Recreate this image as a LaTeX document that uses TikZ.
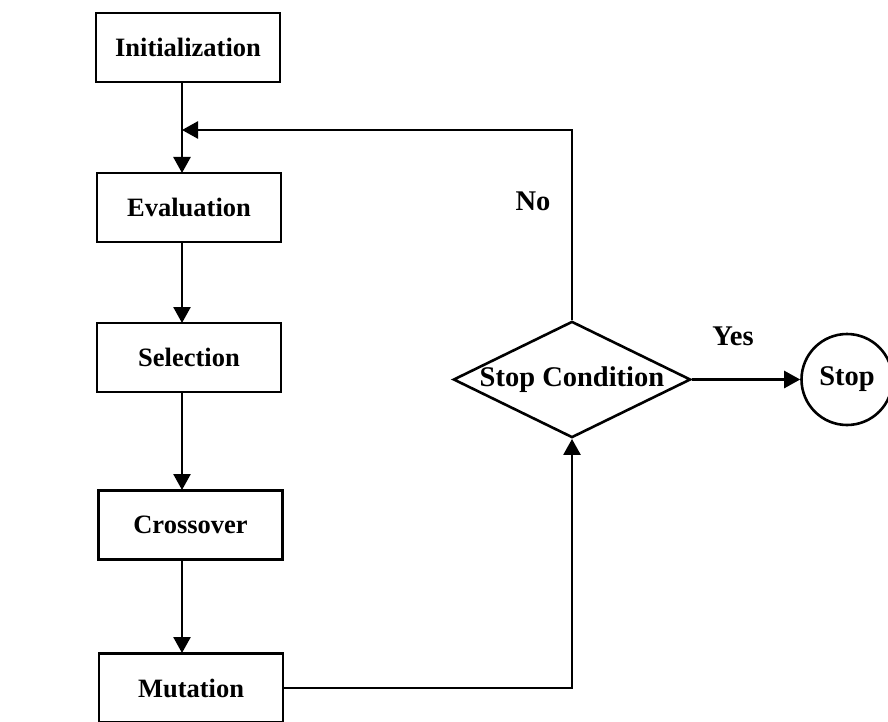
\documentclass[tikz,border=0pt]{standalone}
\usepackage{fontspec}
\setmainfont{Liberation Serif}
\usetikzlibrary{arrows.meta,shapes.geometric}
\begin{document}
\begin{tikzpicture}[x=1pt,y=-1pt,
  line width=2.6pt,
  arr/.style={-{Triangle[length=16pt,width=17pt]}},
  stepbox/.style={draw,minimum width=184pt,minimum height=69pt,inner sep=0pt,font=\fontsize{26.5}{30}\selectfont\bfseries},
  cond/.style={draw,diamond,aspect=2.04,minimum width=228pt,minimum height=113pt,inner sep=0pt,font=\fontsize{28.5}{32}\selectfont\bfseries},
  endc/.style={draw,circle,minimum size=91pt,inner sep=0pt,font=\fontsize{28.5}{32}\selectfont\bfseries},
  lab/.style={font=\fontsize{28.5}{32}\selectfont\bfseries}]
\useasboundingbox (0,0) rectangle (888,722);
\node[stepbox] (init) at (188,47.5) {Initialization};
\node[stepbox] (eval) at (189,207.5) {Evaluation};
\node[stepbox] (sel) at (189,357.5) {Selection};
\node[stepbox] (cross) at (190.5,525) {Crossover};
\node[stepbox] (mut) at (191,688) {Mutation};
\node[cond] (cond) at (572,379.5) {Stop Condition};
\node[endc] (stop) at (847,379.5) {Stop};
\coordinate (j) at (182,130);
\coordinate (c1) at (572,130);
\coordinate (c2) at (572,688);
\draw (182,82) -- (j);
\draw[arr] (j) -- (182,173);
\draw[arr] (182,242) -- (182,323);
\draw[arr] (182,392) -- (182,490);
\draw[arr] (182,560) -- (182,653);
\draw[arr] (mut.east) -- (c2) -- (cond.south);
\draw[arr] (cond.north) -- (c1) -- (j);
\draw[arr] (cond.east) -- (stop.west);
\node[lab] (no) at (533,201) {No};
\node[lab] (yes) at (733,336) {Yes};
\end{tikzpicture}
\end{document}
